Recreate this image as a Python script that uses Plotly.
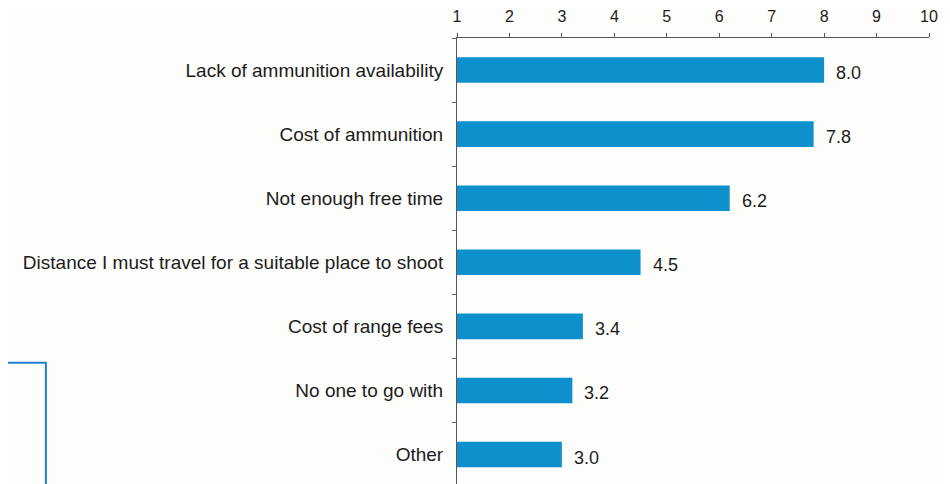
import plotly.graph_objects as go

categories = [
    "Lack of ammunition availability",
    "Cost of ammunition",
    "Not enough free time",
    "Distance I must travel for a suitable place to shoot",
    "Cost of range fees",
    "No one to go with",
    "Other",
]
values = [8.0, 7.8, 6.2, 4.5, 3.4, 3.2, 3.0]
value_labels = ["8.0", "7.8", "6.2", "4.5", "3.4", "3.2", "3.0"]
x_ticks = [1, 2, 3, 4, 5, 6, 7, 8, 9, 10]

BAR = "#0e90cc"
TXT = "#1c1c1c"
BG = "#fdfdfb"
FONT = "Liberation Sans, Arial, sans-serif"

fig = go.Figure()
fig.add_trace(go.Bar(
    y=categories, x=values, orientation="h",
    marker=dict(color=BAR, line=dict(width=0)),
    width=0.4, hoverinfo="skip",
))

for c, v, t in zip(categories, values, value_labels):
    fig.add_annotation(x=v, y=c, text=t, showarrow=False, xanchor="left",
                       xshift=10, yshift=-3,
                       font=dict(size=18, color=TXT, family=FONT))

# partial blue box at the lower-left edge
fig.add_shape(type="rect", xref="paper", yref="paper",
              x0=-0.985, x1=-0.871, y0=-0.02, y1=0.272,
              line=dict(color="#1f80d2", width=2), fillcolor="rgba(0,0,0,0)")
fig.add_shape(type="line", xref="paper", yref="paper",
              x0=-0.968, x1=-0.962, y0=0.218, y1=0.210,
              line=dict(color="#333", width=1.5))

fig.update_layout(
    width=942, height=476,
    margin=dict(l=449, r=21, t=28, b=0),
    paper_bgcolor=BG, plot_bgcolor=BG,
    showlegend=False,
    bargap=0.6,
    font=dict(family=FONT, color=TXT),
    xaxis=dict(
        side="top", range=[1, 10], tickvals=x_ticks,
        ticks="outside", ticklen=4, tickcolor="#555", tickwidth=1,
        showline=True, linecolor="#555", linewidth=1,
        showgrid=False, zeroline=False,
        tickfont=dict(size=16, color=TXT), ticklabelstandoff=5,
    ),
    yaxis=dict(
        type="category", range=[6.46, -0.5],
        ticks="outside", tickson="boundaries", ticklen=4, tickcolor="#666",
        showline=True, linecolor="#555", linewidth=1,
        showgrid=False, zeroline=False,
        tickfont=dict(size=19, color=TXT), ticklabelstandoff=9,
    ),
)

fig.write_html("out.html")
